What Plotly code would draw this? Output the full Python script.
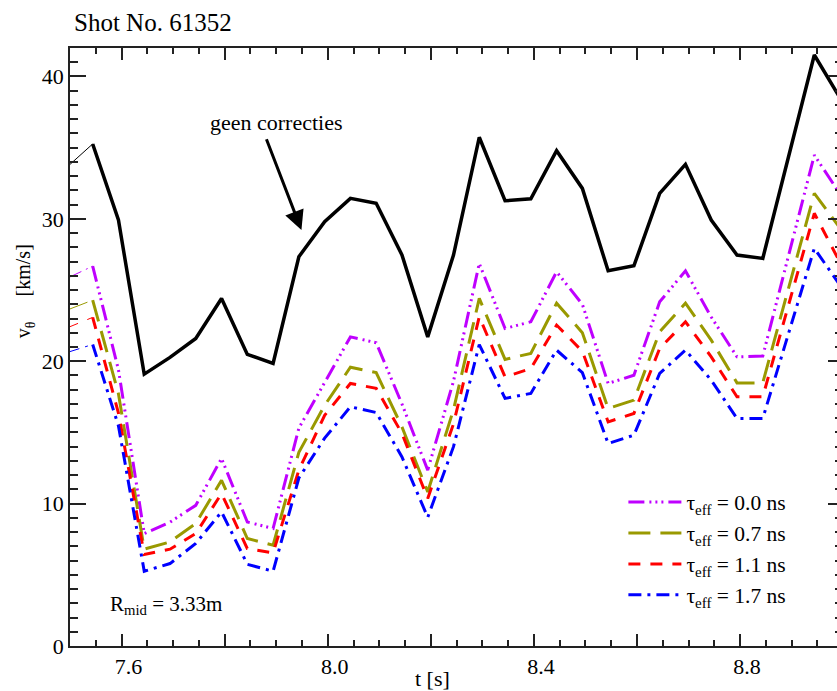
import plotly.graph_objects as go

# time samples [s]
t = [7.494, 7.544, 7.594, 7.644, 7.694, 7.744, 7.794, 7.844, 7.894, 7.944,
     7.994, 8.044, 8.094, 8.144, 8.194, 8.244, 8.294, 8.344, 8.394, 8.444,
     8.494, 8.544, 8.594, 8.644, 8.694, 8.744, 8.794, 8.844, 8.944, 8.994]

# poloidal velocity [km/s], uncorrected
v_raw = [33.63, 35.26, 29.92, 19.09, 20.27, 21.60, 24.41, 20.48, 19.85, 27.34,
         29.80, 31.44, 31.09, 27.46, 21.71, 27.46, 35.73, 31.27, 31.41, 34.79,
         32.14, 26.35, 26.70, 31.79, 33.83, 29.92, 27.46, 27.22, 41.51, 38.49]

# corrected velocities for several effective lifetimes
v_tau00 = [25.82, 26.68, 19.40, 7.90, 8.70, 9.88, 13.17, 8.71, 8.25, 15.30,
           18.50, 21.71, 21.30, 17.00, 12.35, 18.60, 26.87, 22.30, 22.77, 26.28,
           24.00, 18.44, 19.02, 24.17, 26.35, 23.10, 20.31, 20.36, 34.48, 31.74]
v_tau07 = [23.59, 24.29, 17.72, 6.80, 7.31, 8.60, 11.64, 7.55, 7.08, 13.60,
           16.90, 19.58, 19.20, 15.39, 10.82, 16.60, 24.41, 20.13, 20.55, 24.08,
           22.00, 16.68, 17.27, 22.07, 24.08, 21.48, 18.48, 18.48, 31.79, 29.34]
v_tau11 = [22.34, 23.08, 16.36, 6.42, 6.80, 7.90, 10.71, 6.84, 6.54, 12.35,
           16.20, 18.44, 18.10, 14.93, 10.36, 15.60, 23.12, 18.90, 19.49, 22.54,
           20.70, 15.74, 16.33, 20.90, 22.77, 20.31, 17.50, 17.50, 30.39, 26.93]
v_tau17 = [20.61, 21.18, 15.46, 5.25, 5.79, 7.20, 9.42, 5.74, 5.25, 11.80,
           14.60, 16.80, 16.40, 13.28, 9.04, 14.00, 21.17, 17.39, 17.74, 20.78,
           19.20, 14.22, 14.81, 19.14, 20.78, 18.67, 15.98, 15.98, 27.93, 25.33]

series_names = ["τ<sub>eff</sub> = 0.0 ns", "τ<sub>eff</sub> = 0.7 ns",
                "τ<sub>eff</sub> = 1.1 ns", "τ<sub>eff</sub> = 1.7 ns"]
x_labelled_ticks = [7.6, 8.0, 8.4, 8.8]
x_tick_labels = ["7.6", "8.0", "8.4", "8.8"]
x_unlabelled_ticks = [7.8, 8.2, 8.6]
y_ticks = [0, 10, 20, 30, 40]

FONT = "Liberation Serif"
AX = "#222222"

styles = [
    dict(color="#BF00FF", dash="16px,5px,2px,4px,2px,4px,2px,5px"),
    dict(color="#999900", dash="22px,10px"),
    dict(color="#FF0000", dash="12px,10px"),
    dict(color="#0000FF", dash="13px,6px,3px,6px"),
]

fig = go.Figure()

# uncorrected curve: thin lead-in segment then thick line
fig.add_trace(go.Scatter(x=t[:2], y=v_raw[:2], mode="lines",
                         line=dict(color="black", width=1), showlegend=False,
                         hoverinfo="skip"))
fig.add_trace(go.Scatter(x=t[1:], y=v_raw[1:], mode="lines",
                         line=dict(color="black", width=3.5), showlegend=False))

for vals, name, st in zip([v_tau00, v_tau07, v_tau11, v_tau17], series_names, styles):
    fig.add_trace(go.Scatter(x=t[:2], y=vals[:2], mode="lines",
                             line=dict(color=st["color"], width=1, dash=st["dash"]),
                             showlegend=False, hoverinfo="skip"))
    fig.add_trace(go.Scatter(x=t[1:], y=vals[1:], mode="lines", name=name,
                             line=dict(color=st["color"], width=3, dash=st["dash"])))

# empty traces so the extra tick-only axes are drawn
fig.add_trace(go.Scatter(x=[], y=[], yaxis="y2", showlegend=False))
fig.add_trace(go.Scatter(x=[], y=[], xaxis="x2", showlegend=False))

x_range = [7.5, 8.988]
y_range = [0, 42]

fig.update_layout(
    width=837, height=691,
    margin=dict(l=70, r=0, t=48, b=45),
    paper_bgcolor="white", plot_bgcolor="white",
    font=dict(family=FONT, size=22, color="black"),
    showlegend=True,
    legend=dict(x=0.7215, y=0.275, xanchor="left", yanchor="top",
                bgcolor="rgba(0,0,0,0)", font=dict(family=FONT, size=21.5),
                tracegroupgap=0, itemwidth=53),
    xaxis=dict(range=x_range, tickmode="array", tickvals=x_labelled_ticks,
               ticktext=x_tick_labels,
               ticks="inside", ticklen=12, tickwidth=1.5,
               tickcolor=AX, showline=True, linewidth=1.5, linecolor=AX,
               mirror="ticks", showgrid=False, zeroline=False,
               tickfont=dict(family=FONT, size=22), ticklabelshift=7,
               minor=dict(tickmode="linear", tick0=7.5, dtick=0.05, ticklen=6,
                          ticks="inside", tickcolor=AX, tickwidth=1.5,
                          showgrid=False)),
    xaxis2=dict(range=x_range, overlaying="x", side="bottom", anchor="y",
                tickmode="array", tickvals=x_unlabelled_ticks, ticks="inside",
                ticklen=12, tickwidth=1.5, tickcolor=AX, showline=False,
                mirror="ticks", showgrid=False, zeroline=False,
                showticklabels=False),
    yaxis=dict(range=y_range, tickmode="array", tickvals=y_ticks,
               ticks="inside", ticklen=16, tickwidth=1.5, tickcolor=AX,
               showline=True, linewidth=1.5, linecolor=AX, showgrid=False,
               zeroline=False, tickfont=dict(family=FONT, size=22),
               minor=dict(tickmode="linear", tick0=0, dtick=1, ticklen=8,
                          ticks="inside", tickcolor=AX, tickwidth=1.5,
                          showgrid=False)),
    yaxis2=dict(range=y_range, overlaying="y", side="right", anchor="x",
                tickmode="array", tickvals=y_ticks, ticks="inside", ticklen=9,
                tickwidth=1.5, tickcolor=AX, showline=False, showgrid=False,
                zeroline=False, showticklabels=False,
                minor=dict(tickmode="linear", tick0=0, dtick=1, ticklen=2,
                           ticks="inside", tickcolor=AX, tickwidth=1.5,
                           showgrid=False)),
)

annotations = [
    dict(text="Shot No. 61352", xref="paper", yref="paper", x=0.002, y=1.043,
         xanchor="left", yanchor="middle", showarrow=False,
         font=dict(family=FONT, size=25)),
    dict(text="v<sub>θ</sub>\u2003 [km/s]", xref="paper", yref="paper",
         x=-0.059, y=0.593, xanchor="center", yanchor="middle", textangle=-90,
         showarrow=False, font=dict(family=FONT, size=20)),
    dict(text="t [s]", xref="x", yref="paper", x=8.2026, y=-0.054,
         xanchor="center", yanchor="middle", showarrow=False,
         font=dict(family=FONT, size=22)),
    dict(text="geen correcties", xref="x", yref="y", x=7.900, y=36.75,
         xanchor="center", yanchor="middle", showarrow=False,
         font=dict(family=FONT, size=22)),
    dict(x=7.949, y=29.21, xref="x", yref="y", axref="x", ayref="y",
         ax=7.880, ay=35.70, showarrow=True, arrowhead=2, arrowsize=1.3,
         arrowwidth=3, arrowcolor="black", text=""),
    dict(text="R<sub>mid</sub> = 3.33m", xref="x", yref="y", x=7.573, y=2.86,
         xanchor="left", yanchor="middle", showarrow=False,
         font=dict(family=FONT, size=21)),
]
fig.update_layout(annotations=annotations)

fig.write_html("out.html")
